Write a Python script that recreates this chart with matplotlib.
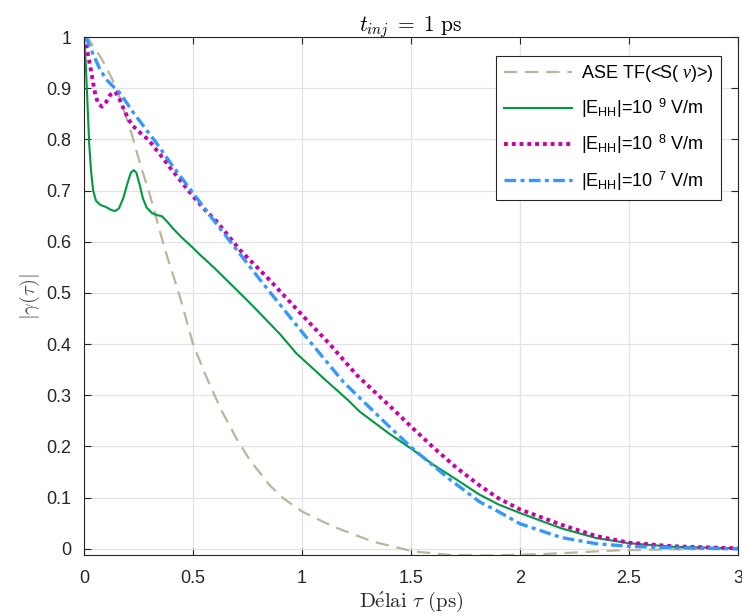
import matplotlib
matplotlib.use("Agg")
import matplotlib.pyplot as plt
from matplotlib.font_manager import FontProperties

plt.rcParams['font.family'] = ['Liberation Sans', 'DejaVu Sans']
plt.rcParams['mathtext.fontset'] = 'custom'
plt.rcParams['mathtext.rm'] = 'Liberation Sans'
plt.rcParams['mathtext.it'] = 'Liberation Serif:italic'

# ASE TF(<S(nu)>)
x_ase = [0, 0.02, 0.08, 0.128, 0.16, 0.19, 0.22, 0.26, 0.30, 0.34, 0.372, 0.44, 0.50,
         0.56, 0.63, 0.70, 0.76, 0.85, 0.913, 1.0, 1.14, 1.325, 1.51, 1.68, 1.86, 2.12,
         2.45, 2.7, 3.0]
y_ase = [1, 0.997, 0.958, 0.919, 0.887, 0.848, 0.809, 0.748, 0.695, 0.633, 0.584, 0.493,
         0.40, 0.337, 0.271, 0.215, 0.174, 0.125, 0.099, 0.073, 0.044, 0.014, -0.005,
         -0.012, -0.013, -0.01, -0.003, -0.001, 0.0]

# |E_HH| = 1e9 V/m
x_e9 = [0, 0.008, 0.016, 0.024, 0.032, 0.042, 0.055, 0.075, 0.1, 0.125, 0.143, 0.16,
        0.18, 0.2, 0.215, 0.228, 0.24, 0.255, 0.27, 0.287, 0.312, 0.335, 0.357, 0.38,
        0.41, 0.449, 0.5, 0.531, 0.6, 0.669, 0.75, 0.821, 0.9, 0.974, 1.11, 1.21, 1.265,
        1.4, 1.51, 1.6, 1.71, 1.814, 1.9, 2.0, 2.19, 2.35, 2.5, 2.7, 3.0]
y_e9 = [1, 0.95, 0.87, 0.79, 0.74, 0.70, 0.680, 0.672, 0.668, 0.662, 0.660, 0.665,
        0.685, 0.715, 0.735, 0.740, 0.735, 0.712, 0.685, 0.667, 0.656, 0.652, 0.650,
        0.640, 0.625, 0.608, 0.588, 0.575, 0.548, 0.519, 0.485, 0.454, 0.419, 0.382,
        0.329, 0.291, 0.268, 0.225, 0.193, 0.165, 0.135, 0.106, 0.087, 0.070, 0.040,
        0.021, 0.011, 0.004, 0.001]

# |E_HH| = 1e8 V/m
x_e8 = [0, 0.01, 0.03, 0.052, 0.065, 0.082, 0.1, 0.12, 0.143, 0.16, 0.174, 0.2, 0.22,
        0.26, 0.296, 0.35, 0.4, 0.5, 0.556, 0.608, 0.715, 0.852, 1.0, 1.127, 1.25, 1.4,
        1.51, 1.6, 1.71, 1.814, 1.9, 2.0, 2.19, 2.35, 2.5, 2.7, 3.0]
y_e8 = [1, 0.985, 0.939, 0.887, 0.870, 0.864, 0.872, 0.887, 0.893, 0.882, 0.867, 0.843,
        0.828, 0.812, 0.799, 0.770, 0.742, 0.689, 0.662, 0.640, 0.584, 0.525, 0.457,
        0.400, 0.340, 0.280, 0.235, 0.199, 0.158, 0.124, 0.099, 0.077, 0.047, 0.025,
        0.012, 0.005, 0.001]

# |E_HH| = 1e7 V/m
x_e7 = [0, 0.014, 0.04, 0.07, 0.1, 0.13, 0.16, 0.19, 0.22, 0.287, 0.327, 0.4, 0.5,
        0.593, 0.69, 0.82, 1.005, 1.19, 1.4, 1.51, 1.68, 1.814, 1.9, 2.0, 2.19, 2.35,
        2.5, 2.7, 3.0]
y_e7 = [1, 0.995, 0.968, 0.940, 0.918, 0.905, 0.893, 0.875, 0.856, 0.818, 0.796, 0.752,
        0.695, 0.643, 0.590, 0.519, 0.421, 0.326, 0.239, 0.195, 0.135, 0.092, 0.073,
        0.049, 0.022, 0.010, 0.005, 0.002, 0.0]

labels = [r'ASE TF(<S( $\nu$)>)',
          r'|E$_{\mathrm{HH}}$|=10 $^{\,9}$ V/m',
          r'|E$_{\mathrm{HH}}$|=10 $^{\,8}$ V/m',
          r'|E$_{\mathrm{HH}}$|=10 $^{\,7}$ V/m']

fig = plt.figure(figsize=(7.42, 6.15), dpi=100)
ax = fig.add_axes([0.1132, 0.0976, 0.8814, 0.8422])

ax.plot(x_ase, y_ase, color='#B9B69C', lw=1.6, ls=(0, (6, 3.5)), label=labels[0])
ax.plot(x_e9, y_e9, color='#009940', lw=1.5, label=labels[1])
ax.plot(x_e8, y_e8, color='#CC00AA', lw=2.8, ls=(0, (1, 1)), label=labels[2])
ax.plot(x_e7, y_e7, color='#3399FF', lw=2.4, ls=(0, (3.5, 1.3, 1.2, 1.3)), label=labels[3])

ax.set_xlim(0, 3)
ax.set_ylim(-0.012, 1)
ax.set_xticks([0, 0.5, 1, 1.5, 2, 2.5, 3])
ax.set_xticklabels(['0', '0.5', '1', '1.5', '2', '2.5', '3'])
ax.set_yticks([i / 10 for i in range(11)])
ax.set_yticklabels(['0'] + ['0.%d' % i for i in range(1, 10)] + ['1'])
ax.tick_params(direction='in', top=True, right=True, length=5, width=0.8,
               labelsize=13, colors='#262626')
ax.tick_params(axis='x', pad=11)
ax.tick_params(axis='y', pad=9)
ax.grid(True, color='#E3E3E3', lw=0.9)
ax.set_axisbelow(True)
for s in ax.spines.values():
    s.set_color('#262626')
    s.set_linewidth(0.8)

ax.set_title(r'$t_{inj}\;=\;1\ \mathrm{ps}$', fontsize=15.5, math_fontfamily='cm', pad=4)
ax.set_xlabel(r'$\mathrm{D\acute{e}lai}\ \tau\ \mathrm{(ps)}$', fontsize=15,
              math_fontfamily='cm', color='#262626', labelpad=2)
ax.set_ylabel(r'$|\gamma(\tau)|$', fontsize=15, math_fontfamily='cm', color='#555555',
              labelpad=3)

leg = ax.legend(loc='upper right', bbox_to_anchor=(0.974, 0.963), borderaxespad=0,
                fancybox=False, framealpha=1, edgecolor='#262626',
                prop=FontProperties(family='Liberation Sans', size=13),
                handlelength=3.8, labelspacing=0.7, handletextpad=0.5)
leg.get_frame().set_linewidth(0.8)

fig.savefig('out.png', dpi=100)
